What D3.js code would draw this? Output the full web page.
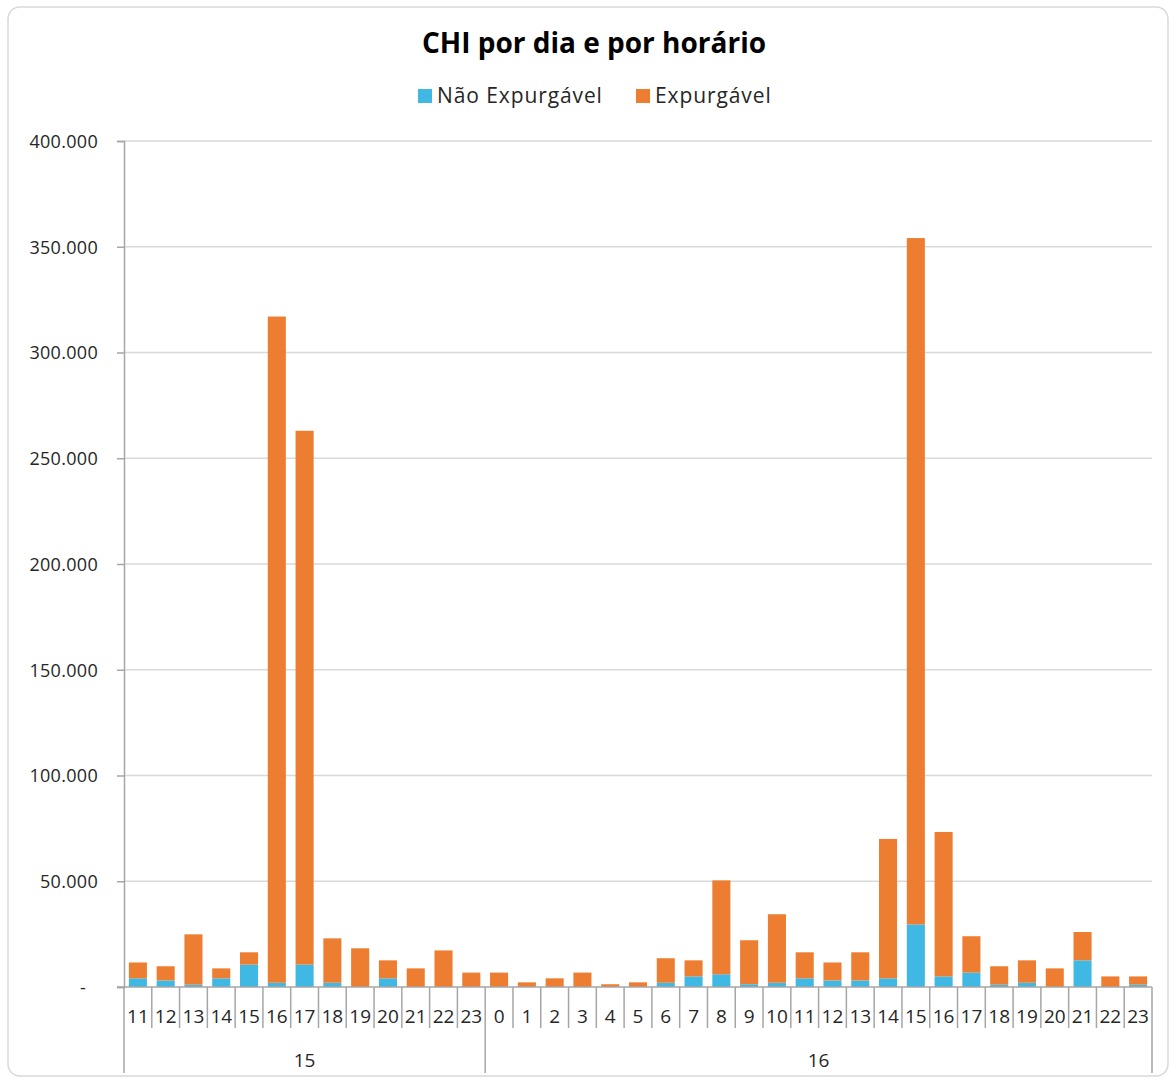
<!DOCTYPE html>
<html>
<head>
<meta charset="utf-8">
<script src="https://cdn.jsdelivr.net/npm/d3@7"></script>
<style>
  body { margin: 0; background: #fff; }
  text { font-family: "Open Sans", "Liberation Sans", sans-serif; fill: #404040; }
  .title { font-size: 28px; font-weight: bold; fill: #000; }
  .legend { font-size: 21px; fill: #262626; letter-spacing: 0.9px; }
  .ytick { font-size: 18px; fill: #262626; letter-spacing: 0.3px; }
  .xtick { font-size: 19px; fill: #262626; }
  .grid line { stroke: #d9d9d9; stroke-width: 1.5; }
</style>
</head>
<body>
<div class="chart"></div>
<script>
// data
var days = ["15", "16"]
var hours15 = ["11","12","13","14","15","16","17","18","19","20","21","22","23"]
var hours16 = ["0","1","2","3","4","5","6","7","8","9","10","11","12","13","14","15","16","17","18","19","20","21","22","23"]

var naoExp15 = [4100, 3100, 1100, 4100, 10600, 2000, 10600, 2000, 0, 4100, 0, 0, 0]
var exp15 = [7500, 6700, 23800, 4700, 5800, 315000, 252400, 21000, 18300, 8500, 8800, 17300, 6800]

var naoExp16 = [0, 0, 0, 0, 0, 0, 2000, 5000, 6000, 1300, 2000, 4100, 3100, 3100, 4100, 29600, 5000, 6800, 1100, 2000, 0, 12600, 0, 1100]
var exp16 = [6800, 2200, 4100, 6800, 1300, 2200, 11600, 7600, 44400, 20800, 32400, 12300, 8500, 13300, 65900, 324500, 68300, 17200, 8700, 10600, 8800, 13400, 5000, 3900]

var seriesNames = ["Não Expurgável", "Expurgável"]
var colors = ["#3fb8e4", "#ed7d31"]
var yTicks = [0, 50000, 100000, 150000, 200000, 250000, 300000, 350000, 400000]

// table
var rows = []
hours15.forEach((h, i) => rows.push({ key: "15-" + h, day: "15", hour: h, nao: naoExp15[i], exp: exp15[i] }))
hours16.forEach((h, i) => rows.push({ key: "16-" + h, day: "16", hour: h, nao: naoExp16[i], exp: exp16[i] }))

var width = 1172, height = 1079
var plotLeft = 124, plotRight = 1152, plotTop = 141, plotBottom = 987

let svg = d3.select('div.chart').append('svg')
  .attr("width", width).attr("height", height)

// frame
svg.append("rect")
  .attr("x", 8).attr("y", 7)
  .attr("width", 1160).attr("height", 1069)
  .attr("rx", 12)
  .attr("fill", "none")
  .attr("stroke", "#d9d9d9")
  .attr("stroke-width", 1.5)

// Scale
let x = d3.scaleBand()
  .domain(rows.map(d => d.key))
  .range([plotLeft, plotRight])
  .paddingInner(0.35)
  .paddingOuter(0.175)

let xStep = d3.scaleBand()
  .domain(rows.map(d => d.key))
  .range([plotLeft, plotRight])

let y = d3.scaleLinear()
  .domain([0, 400000])
  .range([plotBottom, plotTop])

// grid
svg.append("g")
  .attr("class", "grid")
  .selectAll("line")
  .data(yTicks.slice(1))
  .enter()
  .append("line")
  .attr("x1", plotLeft).attr("x2", plotRight)
  .attr("y1", d => y(d)).attr("y2", d => y(d))

// Axis_y
let yAxis = svg.append("g")
  .attr("transform", "translate(" + plotLeft + ",0)")
  .attr("font-family", null).attr("font-size", null)
  .call(d3.axisLeft(y).tickValues(yTicks).tickSize(7).tickPadding(19)
    .tickFormat(d => d === 0 ? "-" : d3.format(",")(d).replace(/,/g, ".")))
yAxis.select(".domain").attr("stroke", "#a6a6a6").attr("stroke-width", 1.5)
yAxis.selectAll(".tick line").attr("stroke", "#a6a6a6").attr("stroke-width", 1.5)
yAxis.selectAll(".tick text").attr("class", "ytick").attr("dy", "0.35em")
  .attr("dx", d => d === 0 ? -12 : 0)

// bars
let stack = d3.stack().keys(["nao", "exp"])
let layers = stack(rows)

svg.append("g")
  .selectAll("g")
  .data(layers)
  .enter()
  .append("g")
  .attr("fill", (d, i) => colors[i])
  .selectAll("rect")
  .data(d => d)
  .enter()
  .append("rect")
  .attr("x", d => x(d.data.key))
  .attr("width", x.bandwidth())
  .attr("y", d => y(d[1]))
  .attr("height", d => y(d[0]) - y(d[1]))

// Axis_x
let axisG = svg.append("g").attr("stroke", "#a6a6a6").attr("stroke-width", 1.5)
axisG.append("line")
  .attr("x1", plotLeft - 7).attr("x2", plotRight)
  .attr("y1", plotBottom).attr("y2", plotBottom)

// category separators
axisG.selectAll("line.sep")
  .data(rows.slice(1))
  .enter()
  .append("line")
  .attr("class", "sep")
  .attr("x1", d => xStep(d.key)).attr("x2", d => xStep(d.key))
  .attr("y1", plotBottom).attr("y2", d => (d.hour === "0") ? 1073 : 1028)

axisG.append("line")
  .attr("x1", plotLeft).attr("x2", plotLeft)
  .attr("y1", plotBottom).attr("y2", 1073)
axisG.append("line")
  .attr("x1", plotRight).attr("x2", plotRight)
  .attr("y1", plotBottom).attr("y2", 1073)

svg.append("g")
  .selectAll("text")
  .data(rows)
  .enter()
  .append("text")
  .attr("class", "xtick")
  .attr("x", d => xStep(d.key) + xStep.bandwidth() / 2)
  .attr("y", 1023)
  .attr("text-anchor", "middle")
  .text(d => d.hour)

// day labels
svg.append("g")
  .selectAll("text")
  .data(days)
  .enter()
  .append("text")
  .attr("class", "xtick")
  .attr("x", d => {
    let keys = rows.filter(r => r.day === d).map(r => r.key)
    return (xStep(keys[0]) + xStep(keys[keys.length - 1]) + xStep.bandwidth()) / 2
  })
  .attr("y", 1067)
  .attr("text-anchor", "middle")
  .text(d => d)

// title
svg.append("text")
  .attr("class", "title")
  .attr("x", 594).attr("y", 53)
  .attr("text-anchor", "middle")
  .text("CHI por dia e por horário")

// legend
let legendX = [418, 636]
let legend = svg.append("g")
  .selectAll("g")
  .data(seriesNames)
  .enter()
  .append("g")
  .attr("transform", (d, i) => "translate(" + legendX[i] + ",89)")
legend.append("rect")
  .attr("width", 14).attr("height", 14)
  .attr("fill", (d, i) => colors[i])
legend.append("text")
  .attr("class", "legend")
  .attr("x", 19).attr("y", 14)
  .text(d => d)
</script>
</body>
</html>
